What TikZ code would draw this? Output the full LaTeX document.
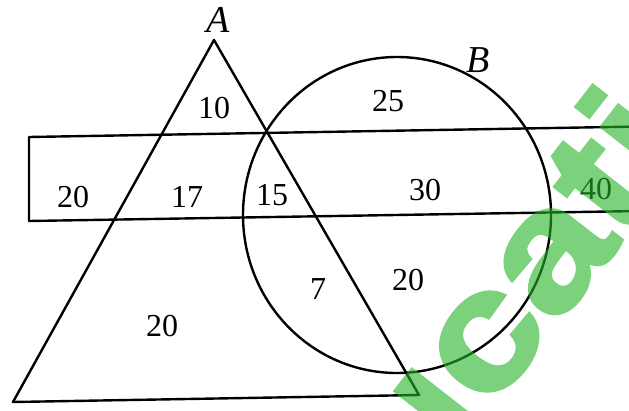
\documentclass[tikz,border=0pt]{standalone}
\usepackage{fontspec}
\usepackage{graphicx}
\setmainfont{Liberation Serif}
\newfontfamily\wmfont[FakeBold=2]{Liberation Sans Bold}
\definecolor{wmgreen}{RGB}{38,180,38}
\begin{document}
\begin{tikzpicture}[x=1pt,y=-1pt,line width=2.4pt,line join=round,
  lbl/.style={inner sep=0pt,font=\fontsize{32}{32}\selectfont},
  setlbl/.style={inner sep=0pt,font=\fontsize{38}{38}\selectfont\itshape},
  wm/.style={inner sep=0pt,text=wmgreen,font=\fontsize{165}{165}\selectfont\wmfont}]
\clip (0,0) rectangle (629,410);
\fill[white] (0,0) rectangle (629,410);
% rectangle (band)
\draw (640,126.5) -- (29,137) -- (29,221) -- (640,211);
% triangle A
\draw (214,40) -- (13,402) -- (419,395) -- cycle;
% circle B
\draw (397,215) ellipse [x radius=154, y radius=158];
% set labels
\node[setlbl] (A) at (218,20) {A};
\node[setlbl] (B) at (478,60) {B};
% numbers
\node[lbl] (n10) at (214,108) {10};
\node[lbl] (n25) at (388,101) {25};
\node[lbl] (n20a) at (73,197) {20};
\node[lbl] (n17) at (187,197) {17};
\node[lbl] (n15) at (272,195) {15};
\node[lbl] (n30) at (425,190) {30};
\node[lbl] (n40) at (596,189) {40};
\node[lbl] (n7) at (318,289) {7};
\node[lbl] (n20b) at (408,280) {20};
\node[lbl] (n20c) at (162,326) {20};
% watermark
\begin{scope}[transparency group,opacity=0.6]
\node[wm,rotate=52] (wm) at (509,291) {\scalebox{1.18}[1]{ucati}};
\end{scope}
\end{tikzpicture}
\end{document}
